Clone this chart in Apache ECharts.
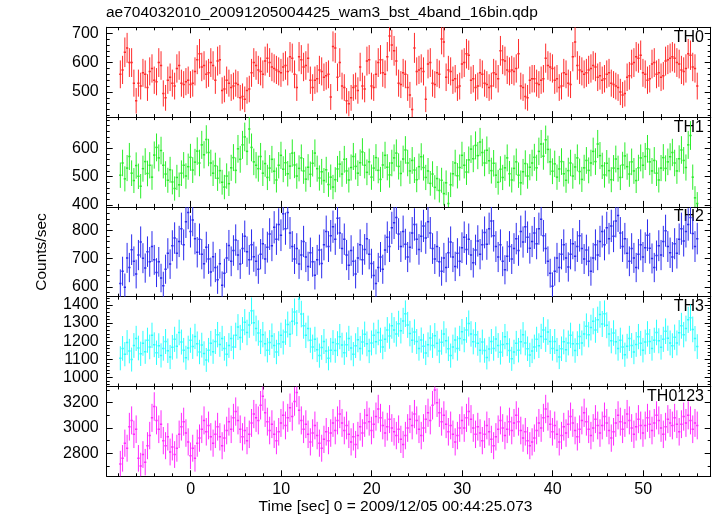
<!DOCTYPE html>
<html><head><meta charset="utf-8">
<script src="https://cdn.jsdelivr.net/npm/echarts@6/dist/echarts.min.js"></script>
<style>html,body{margin:0;padding:0;background:#fff}#c{width:717px;height:516px}</style>
</head><body><div id="c"></div>
<script>
const chartTitle = 'ae704032010_20091205004425_wam3_bst_4band_16bin.qdp';
const xName = 'Time [sec] 0 = 2009/12/05 00:44:25.073';
const yName = 'Counts/sec';
const panelNames = ['TH0', 'TH1', 'TH2', 'TH3', 'TH0123'];
const binStart = -7.775;   // centre of the first 0.25 s bin
const binWidth = 0.25;

const th0 = [
560,575,635,650,600,600,530,470,530,520,565,560,
515,570,580,540,535,600,590,495,480,540,550,530,
520,580,590,530,525,535,540,525,530,570,610,630,
585,590,560,565,600,590,540,605,610,505,510,540,
530,515,520,530,525,480,485,475,505,510,565,600,590,
575,570,560,605,615,600,585,580,575,570,565,585,
590,570,620,615,560,515,620,610,585,590,615,540,
515,540,545,575,570,550,555,560,483,655,650,550,
600,520,515,470,460,480,515,520,505,585,520,510,
605,610,520,515,560,600,610,565,560,620,690,660,640,
605,530,525,565,560,515,490,440,650,570,575,580,
570,475,595,600,530,525,565,560,680,670,550,575,
570,540,545,515,520,595,600,630,625,540,545,515,
520,565,560,530,525,515,520,565,560,545,640,610,
605,575,570,575,570,580,630,520,515,485,480,540,545,
545,530,525,540,545,615,590,585,580,540,545,515,
520,565,560,530,525,620,670,590,575,570,560,565,
575,580,590,585,550,555,540,545,560,565,530,525,
520,515,500,490,495,550,555,595,600,620,615,625,
565,560,540,545,595,600,560,565,550,555,605,610,615,
620,615,600,595,575,570,580,630,625,585,580,520];

const th1 = [
505,548,492,530,571,512,486,539,501,466,528,553,
511,540,498,576,603,566,592,540,509,487,524,481,
458,497,471,512,540,502,535,568,523,551,590,548,
612,577,631,585,548,512,538,494,521,480,463,502,
475,531,567,522,598,561,612,640,589,668,603,552,540,
528,571,512,546,497,530,561,519,488,540,575,526,
549,510,537,583,541,502,529,566,520,491,533,508,
547,583,528,495,517,486,524,472,498,463,489,527,
544,509,561,520,488,532,571,536,512,549,587,540,
515,552,498,530,567,522,490,541,575,533,506,548,566,
583,536,511,562,594,548,520,557,523,489,535,570,
532,497,520,476,509,462,493,451,487,440,478,405,
471,510,548,503,532,575,540,516,559,597,563,610,
574,622,585,548,593,556,521,547,505,480,526,497,
531,566,510,488,529,552,505,478,517,546,502,533,548,
568,531,589,615,572,630,596,552,519,545,498,527,
553,510,487,521,548,502,534,566,518,490,531,557,
522,548,589,553,615,574,538,506,547,521,489,530,
562,528,497,541,573,535,509,552,520,486,531,566,
540,571,598,552,520,557,512,488,530,567,529,552,570,
585,548,520,563,594,557,532,612,645,498,425,405];

const th2 = [
612,655,598,702,668,731,690,645,712,758,701,666,
724,688,742,695,650,688,631,604,662,718,680,745,
772,718,760,805,748,830,862,795,836,770,722,768,
715,681,740,698,652,706,668,625,681,605,648,702,
746,690,728,765,712,680,735,778,724,695,748,706,690,
662,715,752,698,740,786,745,810,768,820,782,858,
805,862,790,742,698,735,680,712,760,705,672,720,
688,641,695,730,682,748,795,742,780,812,768,842,
790,735,768,712,676,728,690,645,702,748,695,732,
770,715,682,640,612,668,705,662,730,775,742,808,826,
845,786,742,795,750,705,740,790,820,768,732,778,
815,772,830,790,735,698,742,688,655,702,668,720,
758,705,672,718,690,738,775,732,768,712,685,730,
762,715,748,792,750,805,832,780,742,705,748,690,
660,708,742,698,735,770,728,795,758,812,775,736,760,
790,752,805,838,780,735,690,648,602,655,702,668,
715,748,702,670,715,752,708,742,780,735,698,730,
690,655,702,748,712,760,795,748,808,770,815,778,
832,852,790,742,770,718,690,735,702,668,715,748,
705,738,782,736,700,668,710,745,712,760,798,742,720,
705,752,718,768,805,762,795,820,845,788,742,770];

const th3 = [
1105,1160,1128,1192,1145,1098,1176,1215,1162,1130,1188,1142,
1205,1168,1232,1180,1136,1175,1121,1160,1198,1147,1112,1166,
1210,1172,1248,1195,1150,1108,1162,1205,1170,1226,1185,1140,
1178,1132,1096,1150,1188,1142,1198,1236,1182,1215,1160,1128,
1176,1215,1168,1232,1278,1220,1262,1305,1248,1290,1368,1302,1270,
1245,1198,1236,1185,1150,1192,1228,1176,1140,1186,1232,1195,
1250,1292,1238,1310,1362,1300,1432,1350,1285,1232,1270,1205,
1168,1210,1152,1120,1165,1198,1146,1105,1150,1192,1148,1186,
1225,1178,1136,1180,1215,1162,1128,1175,1208,1160,1195,1238,
1185,1146,1190,1232,1196,1248,1205,1168,1210,1262,1228,1285,1262,
1240,1296,1258,1312,1352,1290,1242,1205,1250,1198,1160,1206,
1172,1135,1180,1218,1176,1230,1188,1146,1194,1240,1202,1158,
1120,1168,1206,1160,1215,1252,1208,1262,1298,1240,1196,1235,
1188,1150,1195,1148,1110,1156,1198,1160,1212,1176,1138,1182,
1225,1186,1148,1102,1140,1188,1150,1196,1235,1190,1158,1124,1146,
1168,1210,1175,1226,1262,1210,1250,1198,1160,1198,1150,1112,
1158,1196,1152,1190,1232,1185,1148,1186,1226,1190,1240,1282,
1236,1275,1310,1262,1318,1348,1295,1352,1288,1240,1202,1245,
1196,1160,1205,1168,1125,1172,1215,1176,1140,1182,1225,1188,
1150,1195,1240,1198,1160,1205,1248,1202,1166,1210,1255,1216,1190,
1175,1222,1190,1246,1285,1236,1270,1318,1330,1265,1214,1170];

const th0123 = [
2715,2760,2880,2840,3010,3060,2950,2990,2760,2700,2790,2730,
2860,2940,3080,3170,3060,2990,3030,2900,2860,2930,2810,2850,
2790,2840,2950,3010,3050,2960,2890,2780,2840,2760,2880,2920,
2990,3060,2970,3020,2930,2880,2950,3010,2930,2860,2920,2980,
3050,2990,3080,3130,3060,2990,2930,2980,2900,2950,3040,3110,3080,
3060,3180,3250,3120,3050,2980,3030,2950,2900,2970,3040,3100,
3020,3080,3160,3090,3210,3280,3140,3060,2990,3030,2950,2890,
2960,3020,2940,2880,2840,2910,2970,2900,2960,3040,2980,3060,
3110,3040,2980,3020,2950,2890,2930,2870,2940,3010,2960,3040,
3100,3050,2980,3030,3090,3150,3080,3020,2960,3010,3070,3000,2970,
2940,2990,2910,2870,2940,3000,3070,3020,3110,3060,2990,2940,
3000,3070,3120,3060,3180,3300,3200,3120,3050,3100,3030,2970,
3020,2950,2890,2940,3000,3060,3000,3080,3130,3070,3000,2950,
3010,2960,2900,2950,3020,2970,2910,2860,2930,2990,3060,3000,
2940,2990,3050,2980,3040,3100,3050,2980,2920,2970,2900,2860,2890,
2920,2980,3040,3000,3080,3150,3090,3030,2970,3020,2950,2890,
2940,3010,2960,3030,3090,3040,2980,2930,2990,3060,3120,3050,
2990,2940,3000,3070,3020,2960,3020,3090,3040,2980,2920,2970,
3040,3100,3050,2990,3040,3110,3060,3000,2950,3010,3070,3020,
2960,3020,3080,3030,2980,3040,3100,3060,3000,2950,3010,3070,3040,
3020,3080,3030,2970,3030,3090,3040,3100,3060,2990,3040,3020];

const xRange = [-9.28, 57.46];
const xMajorTicks = [0, 10, 20, 30, 40, 50];
const xMinorTicks = [-8,-6,-4,-2,2,4,6,8,12,14,16,18,22,24,26,28,32,34,36,38,42,44,46,48,52,54,56];
const yRanges = [[414.5, 720], [393, 710], [565, 882], [949, 1446], [2618, 3328]];
const yMajorTicks = [[500, 600, 700], [400, 500, 600], [600, 700, 800], [1000, 1100, 1200, 1300, 1400], [2800, 3000, 3200]];
const yMinorStep = [20, 20, 20, 20, 100];

const panelData = [th0, th1, th2, th3, th0123];
const colors = ['#ff2a2a', '#2aee2a', '#2a2aee', '#2affff', '#ff2aff'];

const FONT = 'Liberation Sans, Arial, Helvetica, sans-serif';
const plotLeft = 106.7, plotRight = 710.7, plotTop = 27.3, plotBottom = 476.3;
const panelH = (plotBottom - plotTop) / 5;

function minorValues(range, step, majors) {
  const out = [];
  for (let v = Math.ceil(range[0] / step) * step; v <= range[1]; v += step) {
    if (majors.indexOf(v) < 0) out.push(v);
  }
  return out;
}

const grids = [], xAxes = [], yAxes = [], series = [], graphics = [];
panelData.forEach((vals, k) => {
  grids.push({ left: plotLeft, width: plotRight - plotLeft, top: plotTop + k * panelH, height: panelH });
  const axLine = { show: true, onZero: false, lineStyle: { color: '#000', width: 1 } };
  const noLine = { show: false, onZero: false };
  const xBase = { type: 'value', gridIndex: k, min: xRange[0], max: xRange[1], splitLine: { show: false } };
  ['bottom', 'top'].forEach(pos => {
    xAxes.push(Object.assign({}, xBase, {
      position: pos,
      axisLine: axLine,
      axisTick: { show: true, inside: true, length: 6, customValues: xMajorTicks, lineStyle: { color: '#000' } },
      axisLabel: (pos === 'bottom' && k === 4)
        ? { show: true, customValues: xMajorTicks, fontSize: 16, color: '#000', margin: 5, fontFamily: FONT, formatter: v => String(v) }
        : { show: false }
    }));
    xAxes.push(Object.assign({}, xBase, {
      position: pos,
      axisLine: noLine,
      axisTick: { show: true, inside: true, length: 3, customValues: xMinorTicks, lineStyle: { color: '#000' } },
      axisLabel: { show: false }
    }));
  });
  const yr = yRanges[k];
  const yMin = minorValues(yr, yMinorStep[k], yMajorTicks[k]);
  const yBase = { type: 'value', gridIndex: k, min: yr[0], max: yr[1], splitLine: { show: false } };
  ['left', 'right'].forEach(pos => {
    yAxes.push(Object.assign({}, yBase, {
      position: pos,
      axisLine: axLine,
      axisTick: { show: true, inside: true, length: 6, customValues: yMajorTicks[k], lineStyle: { color: '#000' } },
      axisLabel: pos === 'left'
        ? { show: true, customValues: yMajorTicks[k], fontSize: 16, color: '#000', margin: 8, fontFamily: FONT, formatter: v => String(v) }
        : { show: false }
    }));
    yAxes.push(Object.assign({}, yBase, {
      position: pos,
      axisLine: noLine,
      axisTick: { show: true, inside: true, length: 3, customValues: yMin, lineStyle: { color: '#000' } },
      axisLabel: { show: false }
    }));
  });
  const col = colors[k];
  const data = vals.map((v, i) => [binStart + i * binWidth, v, Math.sqrt(v * binWidth) / binWidth]);
  series.push({
    type: 'custom',
    xAxisIndex: k * 4,
    yAxisIndex: k * 4,
    clip: true,
    silent: true,
    animation: false,
    data: data,
    renderItem: function (params, api) {
      const t = api.value(0), v = api.value(1), e = api.value(2);
      const a = api.coord([t, v + e]), b = api.coord([t, v - e]);
      const l = api.coord([t - binWidth / 2, v]), r = api.coord([t + binWidth / 2, v]);
      return {
        type: 'group',
        children: [
          { type: 'line', shape: { x1: a[0], y1: a[1], x2: b[0], y2: b[1] }, style: { stroke: col, lineWidth: 1 } },
          { type: 'line', shape: { x1: l[0], y1: l[1], x2: r[0], y2: r[1] }, style: { stroke: col, lineWidth: 1.5 } }
        ]
      };
    }
  });
  graphics.push({
    type: 'text', x: 704, y: plotTop + k * panelH + 10,
    style: { text: panelNames[k], font: '16px ' + FONT, fill: '#000', align: 'right', verticalAlign: 'middle' }
  });
});

graphics.push({
  type: 'text', x: 42, y: 252, rotation: Math.PI / 2,
  style: { text: yName, font: '15.5px ' + FONT, fill: '#000', align: 'center', verticalAlign: 'middle' }
});
graphics.push({
  type: 'text', x: 395.5, y: 507,
  style: { text: xName, font: '15.5px ' + FONT, fill: '#000', align: 'center', verticalAlign: 'middle' }
});
graphics.push({
  type: 'text', x: 106, y: 12.5,
  style: { text: chartTitle, font: '15.5px ' + FONT, fill: '#000', align: 'left', verticalAlign: 'middle' }
});

const chart = echarts.init(document.getElementById('c'), null, { renderer: 'canvas' });
chart.setOption({
  animation: false,
  backgroundColor: '#fff',
  grid: grids,
  xAxis: xAxes,
  yAxis: yAxes,
  series: series,
  graphic: graphics
});
</script>
</body></html>
